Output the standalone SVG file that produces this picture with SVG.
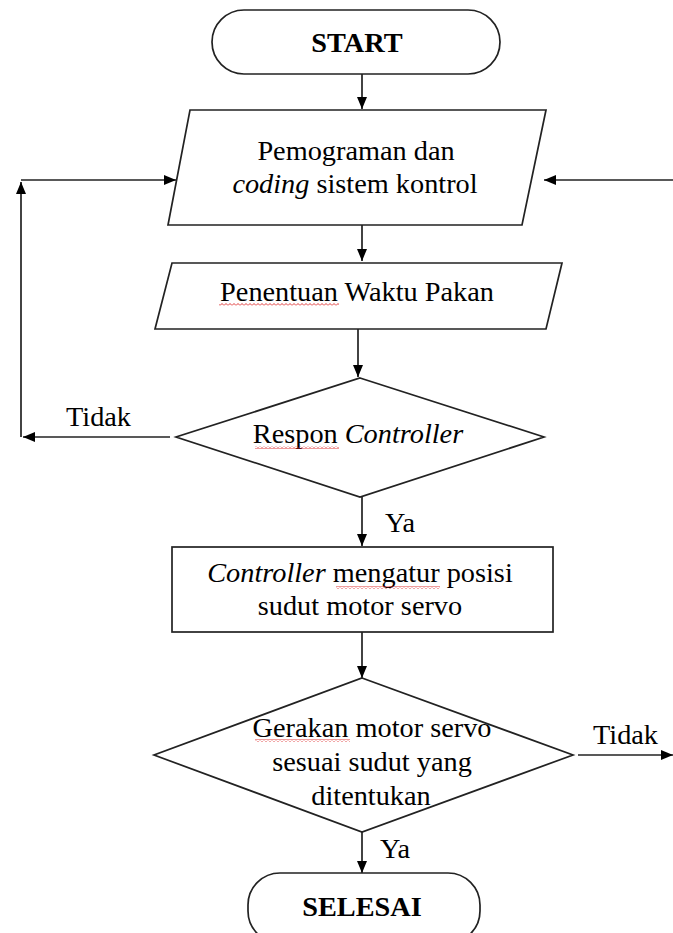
<svg xmlns="http://www.w3.org/2000/svg" width="673" height="933" viewBox="0 0 673 933">
<style>
.s{fill:#fff;stroke:#222;stroke-width:1.7}
.c{fill:none;stroke:#222;stroke-width:1.7}
text{font-family:"Liberation Serif","Times New Roman",serif;font-size:28.3px;fill:#000}
.b{font-weight:bold}
.m{text-anchor:middle}
.w{fill:url(#wavy);stroke:none}
</style>
<defs>
<marker id="ah" viewBox="0 0 12 10" refX="12" refY="5" markerWidth="12" markerHeight="10" markerUnits="userSpaceOnUse" orient="auto">
<path d="M0,0 L12,5 L0,10 z" fill="#000"/>
</marker>
<pattern id="wavy" width="4" height="3" patternUnits="userSpaceOnUse">
<path d="M0,2.5 L2,0.5 L4,2.5" fill="none" stroke="#d22" stroke-width="0.9"/>
</pattern>
</defs>
<g id="connectors">
<line class="c" x1="362" y1="74" x2="362" y2="109" marker-end="url(#ah)"/>
<line class="c" x1="362" y1="225" x2="362" y2="261" marker-end="url(#ah)"/>
<line class="c" x1="358" y1="329" x2="358" y2="377" marker-end="url(#ah)"/>
<line class="c" x1="362" y1="497" x2="362" y2="546" marker-end="url(#ah)"/>
<line class="c" x1="362" y1="632" x2="362" y2="678" marker-end="url(#ah)"/>
<line class="c" x1="362" y1="832" x2="362" y2="873" marker-end="url(#ah)"/>
<line class="c" x1="170" y1="437" x2="23" y2="437" marker-end="url(#ah)"/>
<line class="c" x1="21" y1="437" x2="21" y2="182" marker-end="url(#ah)"/>
<line class="c" x1="21" y1="180" x2="176" y2="180" marker-end="url(#ah)"/>
<line class="c" x1="673" y1="180" x2="544" y2="180" marker-end="url(#ah)"/>
<line class="c" x1="578" y1="755" x2="673" y2="755" marker-end="url(#ah)"/>
<text x="66" y="426">Tidak</text>
<text x="385" y="532">Ya</text>
<text x="593" y="744">Tidak</text>
<text x="380" y="858">Ya</text>
</g>
<g id="start">
<rect class="s" x="212" y="10" width="288" height="64" rx="32" ry="32"/>
<text class="b m" x="357" y="52">START</text>
</g>
<g id="pemograman">
<polygon class="s" points="190,110 546,110 522,225 168,225"/>
<text class="m" x="356" y="160">Pemograman dan</text>
<text class="m" x="355" y="193"><tspan font-style="italic">coding</tspan> sistem kontrol</text>
</g>
<g id="penentuan">
<polygon class="s" points="172,263 562,263 546,329 155,329"/>
<text class="m" x="357" y="301">Penentuan Waktu Pakan</text>
<rect class="w" x="219" y="303" width="120" height="3"/>
</g>
<g id="respon">
<polygon class="s" points="360,378 544,437 360,497 176,437"/>
<text class="m" x="358" y="443">Respon <tspan font-style="italic">Controller</tspan></text>
<rect class="w" x="255" y="446" width="84" height="3"/>
</g>
<g id="controller">
<rect class="s" x="172" y="547" width="381" height="85"/>
<text class="m" x="360" y="582"><tspan font-style="italic">Controller</tspan> mengatur posisi</text>
<text class="m" x="360" y="615">sudut motor servo</text>
<rect class="w" x="336" y="586" width="104" height="3"/>
</g>
<g id="gerakan">
<polygon class="s" points="362,678 573,755 362,832 154,755"/>
<text class="m" x="372" y="737">Gerakan motor servo</text>
<text class="m" x="372" y="771">sesuai sudut yang</text>
<text class="m" x="371" y="805">ditentukan</text>
<rect class="w" x="255" y="739" width="95" height="3"/>
</g>
<g id="selesai">
<rect class="s" x="248" y="873" width="232" height="70" rx="32" ry="32"/>
<text class="b m" x="362" y="916">SELESAI</text>
</g>
</svg>
